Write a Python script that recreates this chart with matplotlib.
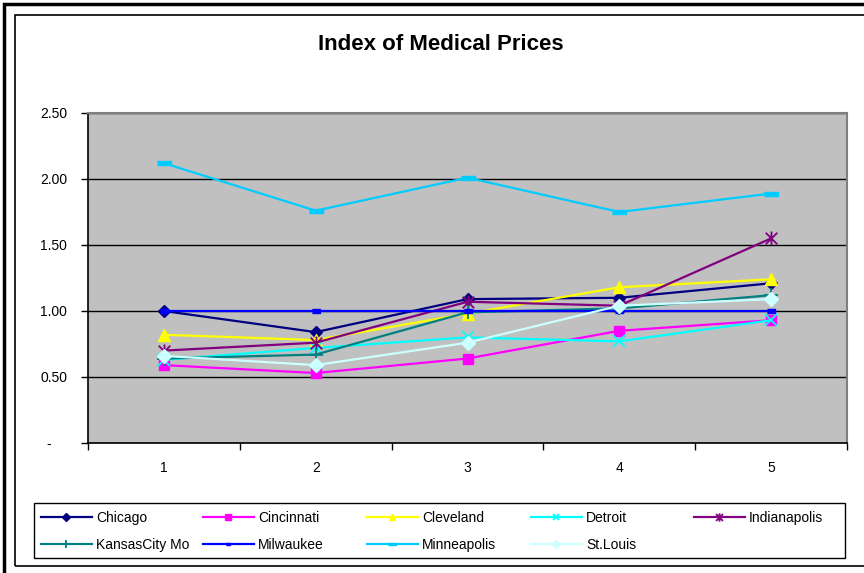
import matplotlib
matplotlib.use("Agg")
import matplotlib.pyplot as plt
from matplotlib.patches import Rectangle
from matplotlib.path import Path

# data
periods = [1, 2, 3, 4, 5]
chicago = [1.00, 0.84, 1.09, 1.10, 1.21]
cincinnati = [0.59, 0.53, 0.64, 0.85, 0.93]
cleveland = [0.82, 0.78, 0.98, 1.18, 1.24]
detroit = [0.63, 0.72, 0.80, 0.77, 0.93]
indianapolis = [0.70, 0.76, 1.07, 1.04, 1.55]
kansas_city = [0.64, 0.67, 0.99, 1.02, 1.12]
milwaukee = [1.00, 1.00, 1.00, 1.00, 1.00]
minneapolis = [2.12, 1.76, 2.01, 1.75, 1.89]
st_louis = [0.66, 0.59, 0.76, 1.04, 1.09]
y_ticks = [0, 0.5, 1.0, 1.5, 2.0, 2.5]
y_labels = ["-    ", "0.50", "1.00", "1.50", "2.00", "2.50"]

plt.rcParams['font.family'] = ['Liberation Sans', 'DejaVu Sans']

dash_small = [(-1, -0.45), (1, -0.45), (1, 0.45), (-1, 0.45)]
dash_long = [(-1, -0.3), (1, -0.3), (1, 0.3), (-1, 0.3)]
# excel style asterisk: an x with a vertical bar through it
asterisk = Path([(-1, -1), (1, 1), (-1, 1), (1, -1), (0, -1.2), (0, 1.2)],
                [Path.MOVETO, Path.LINETO, Path.MOVETO, Path.LINETO, Path.MOVETO, Path.LINETO])

series = [
    ("Chicago", chicago, "#000080", "D", 6.5),
    ("Cincinnati", cincinnati, "#FF00FF", "s", 7),
    ("Cleveland", cleveland, "#FFFF00", "^", 8),
    ("Detroit", detroit, "#00FFFF", "x", 8),
    ("Indianapolis", indianapolis, "#800080", asterisk, 10),
    ("KansasCity Mo", kansas_city, "#008080", "+", 10),
    ("Milwaukee", milwaukee, "#0000FF", dash_small, 6),
    ("Minneapolis", minneapolis, "#00CCFF", dash_long, 10),
    ("St.Louis", st_louis, "#CCFFFF", "D", 7),
]

fig = plt.figure(figsize=(8.64, 5.73), dpi=100)
ax = fig.add_axes([88/864, 1-443/573, (847-88)/864, (443-113)/573])
ax.set_facecolor("#C0C0C0")

handles = []
for name, vals, col, mk, ms in series:
    thin = isinstance(mk, Path) or mk in ("x", "+")
    h, = ax.plot(periods, vals, color=col, lw=1.6, marker=mk, markersize=ms,
                 markerfacecolor=col, markeredgecolor=col,
                 markeredgewidth=1.3 if thin else 1.0,
                 label=name, zorder=3)
    handles.append(h)

ax.set_xlim(0.5, 5.5)
ax.set_ylim(0, 2.5)
ax.set_yticks(y_ticks)
ax.set_yticklabels(y_labels)
ax.set_xticks(periods)
ax.set_xticks([0.5, 1.5, 2.5, 3.5, 4.5, 5.5], minor=True)
ax.tick_params(axis="x", which="major", length=0, pad=13, labelsize=10)
ax.tick_params(axis="x", which="minor", length=5, width=1, direction="out")
ax.tick_params(axis="y", length=5, width=1, direction="out", pad=10, labelsize=10)
ax.grid(axis="y", color="black", lw=1)
ax.set_axisbelow(True)
for s in ["top", "right"]:
    ax.spines[s].set_color("#808080")
    ax.spines[s].set_linewidth(1.5)
for s in ["left", "bottom"]:
    ax.spines[s].set_color("black")
    ax.spines[s].set_linewidth(1.2)

fig.text(441/864, 1-45/573, "Index of Medical Prices", ha="center", va="center",
         fontsize=16, fontweight="bold")

# legend: 5 columns, 2 rows, filled row by row
fig.patches.append(Rectangle((34/864, 1-558/573), (845-34)/864, (558-503)/573,
                             transform=fig.transFigure, fill=True, facecolor="white",
                             edgecolor="black", lw=1))
col_x = [41, 203, 367, 531, 694]
for j, x in enumerate(col_x):
    items = [handles[j]]
    if j + 5 < len(handles):
        items.append(handles[j + 5])
    fig.legend(handles=items, loc="upper left", bbox_to_anchor=(x/864, 1-511/573),
               frameon=False, fontsize=10, handlelength=3.65, handletextpad=0.3,
               borderpad=0, borderaxespad=0, labelspacing=0.95, markerscale=0.6)

# chart frames
fig.patches.append(Rectangle((4/864, -0.01), 1.0, 1-4/573+0.01, transform=fig.transFigure,
                             fill=False, edgecolor="black", lw=2.5))
fig.patches.append(Rectangle((15/864, 1-566/573), 1.0, (566-15)/573, transform=fig.transFigure,
                             fill=False, edgecolor="black", lw=1.2))

fig.savefig("out.png", dpi=100)
